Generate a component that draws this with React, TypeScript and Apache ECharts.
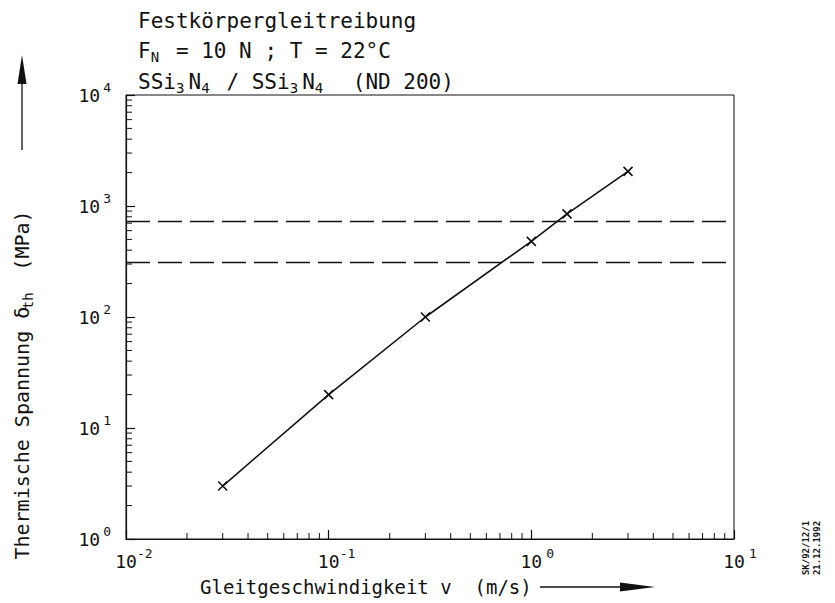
import React, { useEffect, useRef } from "react";
import * as echarts from "echarts";

const FONT = "'DejaVu Sans Mono', 'Liberation Mono', monospace";

// data
const velocity = [0.03, 0.1, 0.3, 1, 1.5, 3];
const stress = [3, 20, 100, 480, 850, 2050];
const limitLines = [730, 310];
const xMin = 0.01;
const xMax = 10;
const yMin = 1;
const yMax = 10000;
const xMinorTicks = [
  0.02, 0.03, 0.04, 0.05, 0.06, 0.07, 0.08, 0.09,
  0.2, 0.3, 0.4, 0.5, 0.6, 0.7, 0.8, 0.9,
  2, 3, 4, 5, 6, 7, 8, 9,
];
const yMinorTicks = [
  2, 3, 4, 5, 6, 7, 8, 9,
  20, 30, 40, 50, 60, 70, 80, 90,
  200, 300, 400, 500, 600, 700, 800, 900,
  2000, 3000, 4000, 5000, 6000, 7000, 8000, 9000,
];
const titleLines = [
  "{t|Festkörpergleitreibung}",
  "{t|F}{s|N}{t| = 10 N ; T = 22°C}",
  "{t|SSi}{s|3}{t|N}{s|4}{t| / SSi}{s|3}{t|N}{s|4}{t|  (ND 200)}",
];
const yAxisTitle = "{t|Thermische Spannung δ}{s|th}{t|  (MPa)}";
const xAxisTitle = "Gleitgeschwindigkeit v  (m/s)";
const stampLines = "SK/92/12/1\n21.12.1992";

const titleRich = {
  t: { fontFamily: FONT, fontSize: 21, lineHeight: 26, verticalAlign: "middle", fill: "#111" },
  s: { fontFamily: FONT, fontSize: 14, lineHeight: 14, width: 12.6, verticalAlign: "bottom", fill: "#111" },
};

const expOf = (v: number) => String(Math.round(Math.log10(v)));

export default function App() {
  const ref = useRef<HTMLDivElement>(null);
  useEffect(() => {
    if (!ref.current) return;
    const chart = echarts.init(ref.current, null, { renderer: "svg" });
    const left = 126, top = 95, width = 608, height = 444;
    const option: any = {
      animation: false,
      backgroundColor: "#fff",
      grid: { left, top, width, height, show: true, borderColor: "#111", borderWidth: 1, backgroundColor: "transparent" },
      xAxis: {
        type: "log",
        logBase: 10,
        min: xMin,
        max: xMax,
        axisLine: { show: true, lineStyle: { color: "#111", width: 1.2 } },
        axisTick: { show: true, inside: true, length: 9, lineStyle: { color: "#111", width: 1.2 } },
        splitLine: { show: false },
        axisLabel: {
          margin: 8,
          formatter: (v: number) => `{b|10}{e|${expOf(v)}}`,
          rich: {
            b: { fontFamily: FONT, fontSize: 18, lineHeight: 28, verticalAlign: "middle", color: "#111", padding: [0, 0, 0, 16] },
            e: { fontFamily: FONT, fontSize: 13, lineHeight: 10, verticalAlign: "top", color: "#111", width: 16 },
          },
        },
      },
      yAxis: {
        type: "log",
        logBase: 10,
        min: yMin,
        max: yMax,
        axisLine: { show: true, lineStyle: { color: "#111", width: 1.2 } },
        axisTick: { show: true, inside: true, length: 9, lineStyle: { color: "#111", width: 1.2 } },
        splitLine: { show: false },
        axisLabel: {
          margin: 15,
          formatter: (v: number) => `{b|10}{e|${expOf(v)}}`,
          rich: {
            b: { fontFamily: FONT, fontSize: 18, lineHeight: 28, verticalAlign: "middle", color: "#111" },
            e: { fontFamily: FONT, fontSize: 13, lineHeight: 10, verticalAlign: "top", color: "#111", padding: [0, 0, 0, 3] },
          },
        },
      },
      series: [
        {
          type: "line",
          data: velocity.map((v, i) => [v, stress[i]]),
          symbol: "path://M0 0L10 10M10 0L0 10",
          symbolSize: 9,
          showSymbol: true,
          lineStyle: { color: "#111", width: 1.6 },
          itemStyle: { color: "none", borderColor: "#111", borderWidth: 1.6 },
          markLine: {
            silent: true,
            symbol: ["none", "none"],
            label: { show: false },
            lineStyle: { color: "#111", type: [24, 8], width: 1.3 },
            data: limitLines.map((y) => ({ yAxis: y })),
          },
          z: 5,
        },
        {
          type: "custom",
          data: xMinorTicks.map((v) => [v, yMin]),
          renderItem: (_p: any, api: any) => {
            const p = api.coord([api.value(0), api.value(1)]);
            return { type: "line", shape: { x1: p[0], y1: p[1], x2: p[0], y2: p[1] - 6 }, style: { stroke: "#111", lineWidth: 1 } };
          },
          silent: true,
        },
        {
          type: "custom",
          data: yMinorTicks.map((v) => [xMin, v]),
          renderItem: (_p: any, api: any) => {
            const p = api.coord([api.value(0), api.value(1)]);
            return { type: "line", shape: { x1: p[0], y1: p[1], x2: p[0] + 6, y2: p[1] }, style: { stroke: "#111", lineWidth: 1 } };
          },
          silent: true,
        },
      ],
      graphic: [
        ...titleLines.map((t, i) => ({
          type: "text",
          x: 138,
          y: [21, 51, 82][i],
          style: { text: t, rich: titleRich, align: "left", verticalAlign: "middle" },
        })),
        {
          type: "text",
          x: 22,
          y: 385,
          rotation: Math.PI / 2,
          style: { text: yAxisTitle, rich: { ...titleRich, t: { ...titleRich.t, fontSize: 20 }, s: { ...titleRich.s, width: 12 } }, align: "center", verticalAlign: "middle" },
        },
        { type: "line", shape: { x1: 22, y1: 150, x2: 22, y2: 80 }, style: { stroke: "#111", lineWidth: 1.3 } },
        { type: "polygon", shape: { points: [[22, 55], [17.5, 84], [26.5, 84]] }, style: { fill: "#111" } },
        {
          type: "text",
          x: 200,
          y: 587,
          style: { text: xAxisTitle, font: `19px ${FONT}`, fill: "#111", align: "left", verticalAlign: "middle" },
        },
        { type: "line", shape: { x1: 540, y1: 587, x2: 625, y2: 587 }, style: { stroke: "#111", lineWidth: 1.3 } },
        { type: "polygon", shape: { points: [[655, 587], [620, 582.5], [620, 591.5]] }, style: { fill: "#111" } },
        {
          type: "text",
          x: 811,
          y: 548,
          rotation: Math.PI / 2,
          style: { text: stampLines, font: `bold 9px ${FONT}`, lineHeight: 11, fill: "#111", align: "center", verticalAlign: "middle" },
        },
      ],
    };
    chart.setOption(option);
    return () => chart.dispose();
  }, []);
  return <div ref={ref} style={{ position: "fixed", left: 0, top: 0, width: 835, height: 603, background: "#fff" }} />;
}
